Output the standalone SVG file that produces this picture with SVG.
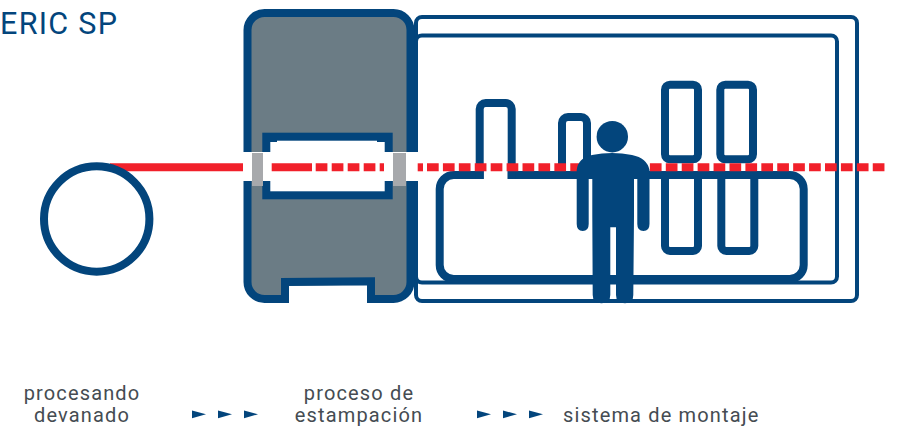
<svg xmlns="http://www.w3.org/2000/svg" width="903" height="426" viewBox="0 0 903 426">
<style>
.b{fill:none;stroke:#03457c;stroke-width:8}
.f{fill:none;stroke:#03457c;stroke-width:4}
.w{fill:#fff}
.g{fill:#a7a9ac}
.t{font-family:Roboto,"Liberation Sans",sans-serif;font-size:20px;fill:#454c52;letter-spacing:1.15px}
.r{stroke:#f1202a;stroke-width:8;fill:none}
.a{fill:#03457c}
</style>
<rect class="w" width="903" height="426"/>
<text id="title" x="0" y="33.500" font-family="Roboto,'Liberation Sans',sans-serif" font-size="30.500" letter-spacing="1.3" fill="#03457c">ERIC SP</text>
<g id="assembly-frames">
<rect class="f" x="416" y="17" width="441" height="284" rx="6"/>
<rect class="f" x="416" y="35.500" width="421" height="247" rx="6"/>
</g>
<g id="press">
<rect x="247.500" y="13" width="163" height="286" rx="17" fill="#6b7c85" stroke="#03457c" stroke-width="8"/>
<path class="w" d="M289 304V285.700L367 285V304Z"/>
<path d="M285 299V282L371 281.200V299" class="b"/>
<rect class="w" x="266" y="136.700" width="122.700" height="58.600"/>
<rect class="b" x="266.300" y="136.700" width="122.400" height="58.600"/>
<path class="a" d="M270 140h7v2h-7zM377 140h8v2h-8z"/>
<rect class="w" x="242" y="152" width="176" height="29"/>
<rect class="g" x="252" y="153" width="11" height="33"/>
<rect class="g" x="393" y="153" width="13" height="33"/>
</g>
<g id="assembly-system">
<path class="b" d="M483.700 175H453.700a14 14 0 0 0-14 14V265a14 14 0 0 0 14 14H789.700a14 14 0 0 0 14-14V189a14 14 0 0 0-14-14H507.700"/>
<path class="b" d="M479.700 179V109a6 6 0 0 1 6-6h20a6 6 0 0 1 6 6V179"/>
<path class="b" d="M562 175V123a6 6 0 0 1 6-6h13a6 6 0 0 1 6 6V175"/>
<rect class="b" x="665" y="84.700" width="33" height="74.600" rx="5"/>
<rect class="b" x="720.300" y="84.700" width="32.700" height="74.600" rx="5"/>
<path class="b" d="M665 175V246a5 5 0 0 0 5 5H693a5 5 0 0 0 5-5V175"/>
<path class="b" d="M721.300 175V246a5 5 0 0 0 5 5H749.300a5 5 0 0 0 5-5V175"/>
</g>
<g id="connectors">
<path class="r" d="M110 167.300H243"/>
<path class="r" d="M271.700 167.300H312"/>
<path class="r" d="M315.700 167.300H384" stroke-dasharray="11.700 4.300"/>
<path class="r" d="M417.700 167.300H423"/>
<path class="r" d="M427 167.300H885" stroke-dasharray="11.700 4.220"/>
</g>
<g id="decoiler"><circle class="b" cx="96.700" cy="219" r="52.700"/></g>
<g id="operator">
<circle class="a" cx="612.300" cy="136.700" r="15.700"/>
<path class="a" d="M592.700 303.300 V295 L592.300 216 V179 H588.700 V224 Q588.700 231 582.700 231 Q576.700 231 576.700 224 V170 Q578 158 592 155 Q612 151 632 155 Q647 158 649.500 170 V224 Q649.500 231 643.400 231 Q637.300 231 637.300 224 V179 H634 V216 L633.300 295 Q633.300 303.300 625 303.300 Q616 303.300 616 295 V227.300 H610.300 V295 Q610.300 303.300 601.500 303.300 Q592.700 303.300 592.700 295Z"/>
</g>
<g id="labels">
<text class="t" x="82" y="399.500" text-anchor="middle">procesando</text>
<text class="t" x="82" y="421.700" text-anchor="middle">devanado</text>
<text class="t" x="359" y="399.500" text-anchor="middle">proceso de</text>
<text class="t" x="359" y="421.700" text-anchor="middle">estampación</text>
<text class="t" x="563" y="421.700">sistema de montaje</text>
</g>
<g id="chevrons">
<path class="a" d="M192 410.500l14 3.800-14 4Z"/>
<path class="a" d="M218 410.500l14 3.800-14 4Z"/>
<path class="a" d="M244 410.500l14 3.800-14 4Z"/>
<path class="a" d="M477 410.500l14 3.800-14 4Z"/>
<path class="a" d="M503 410.500l14 3.800-14 4Z"/>
<path class="a" d="M529 410.500l14 3.800-14 4Z"/>
</g>
</svg>
